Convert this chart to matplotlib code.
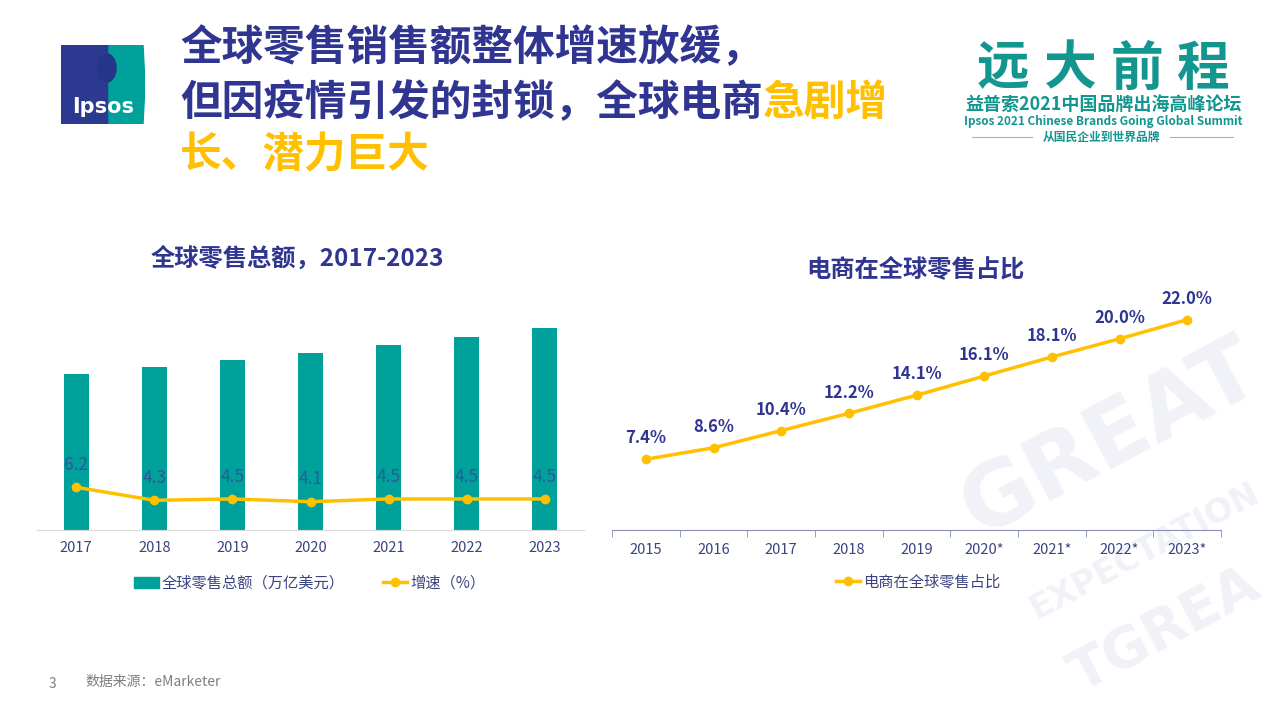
import matplotlib.pyplot as plt
from matplotlib.patches import Polygon, Ellipse
from matplotlib.lines import Line2D
from matplotlib.patches import Patch

plt.rcParams['font.family'] = ['Noto Sans CJK SC', 'DejaVu Sans']

# data
retail_years = ['2017', '2018', '2019', '2020', '2021', '2022', '2023']
retail_total = [22.6, 23.6, 24.6, 25.6, 26.8, 28.0, 29.3]   # 万亿美元
retail_growth = [6.2, 4.3, 4.5, 4.1, 4.5, 4.5, 4.5]

ecom_years = ['2015', '2016', '2017', '2018', '2019', '2020*', '2021*', '2022*', '2023*']
ecom_share = [7.4, 8.6, 10.4, 12.2, 14.1, 16.1, 18.1, 20.0, 22.0]

NAVY = '#2f3590'
TEXT = '#3b4380'
YELLOW = '#FFC000'
TEAL = '#00A19B'
GRAY = '#7f7f7f'

fig = plt.figure(figsize=(12.8, 7.2), dpi=100)

# faint watermark in the lower right corner
wm = '#f1f2f8'
fig.text(0.868, 0.39, 'GREAT', fontsize=64, fontweight='bold', color=wm,
         rotation=28, ha='center', va='center', family='DejaVu Sans', zorder=-5)
fig.text(0.895, 0.235, 'EXPECTATION', fontsize=24, fontweight='bold', color=wm,
         rotation=28, ha='center', va='center', family='DejaVu Sans', zorder=-5)
fig.text(0.91, 0.125, 'TGREA', fontsize=40, fontweight='bold', color=wm,
         rotation=28, ha='center', va='center', family='DejaVu Sans', zorder=-5)

# Ipsos logo
logo = fig.add_axes([61 / 1280, 1 - 124 / 720, 84 / 1280, 79 / 720])
logo.set_xlim(0, 84)
logo.set_ylim(0, 79)
logo.axis('off')
logo.add_patch(Polygon([[0, 0], [48, 0], [48, 79], [0, 79]], color='#2b3990'))
logo.add_patch(Polygon([[48, 0], [82, 0], [84, 40], [82, 79], [48, 79]], color='#00A19B'))
logo.add_patch(Ellipse((46, 56), 18, 28, color='#25358a'))
logo.text(42, 17, 'Ipsos', color='white', fontsize=15, fontweight='bold',
          ha='center', va='center', family='DejaVu Sans')

# main title
fig.text(180 / 1280, 1 - 48 / 720, '全球零售销售额整体增速放缓，', fontsize=30,
         fontweight='bold', color=NAVY, va='center')
t2 = fig.text(180 / 1280, 1 - 103 / 720, '但因疫情引发的封锁，全球电商', fontsize=30,
              fontweight='bold', color=NAVY, va='center')
fig.canvas.draw()
x_end = t2.get_window_extent().x1 / 1280
fig.text(x_end, 1 - 103 / 720, '急剧增', fontsize=30,
         fontweight='bold', color=YELLOW, va='center')
fig.text(180 / 1280, 1 - 155 / 720, '长、潜力巨大', fontsize=30,
         fontweight='bold', color=YELLOW, va='center')

# summit logo
for xc, ch in zip([1003, 1070, 1137, 1203], '远大前程'):
    fig.text(xc / 1280, 1 - 69 / 720, ch, fontsize=38, fontweight='bold',
             color='#13968f', ha='center', va='center')
fig.text(1103 / 1280, 1 - 104 / 720, '益普索2021中国品牌出海高峰论坛', fontsize=13,
         fontweight='bold', color='#13968f', ha='center', va='center')
fig.text(1103 / 1280, 1 - 121 / 720, 'Ipsos 2021 Chinese Brands Going Global Summit',
         fontsize=8.5, fontweight='bold', color='#13968f', ha='center', va='center')
fig.text(1101 / 1280, 1 - 137 / 720, '从国民企业到世界品牌', fontsize=8.5,
         fontweight='bold', color='#13968f', ha='center', va='center')
fig.add_artist(Line2D([972 / 1280, 1032 / 1280], [1 - 137 / 720] * 2, color='#7fc9c5', lw=0.8))
fig.add_artist(Line2D([1170 / 1280, 1233 / 1280], [1 - 137 / 720] * 2, color='#7fc9c5', lw=0.8))

# left chart
ax1 = fig.add_axes([37 / 1280, 190 / 720, 547 / 1280, 241.5 / 720])
x1 = range(len(retail_years))
ax1.bar(x1, retail_total, width=0.32, color=TEAL, zorder=2)
ax1.set_xlim(-0.5, len(retail_years) - 0.5)
ax1.set_ylim(0, 35)
ax1.set_yticks([])
ax1.set_xticks(list(x1))
ax1.set_xticklabels(retail_years, fontsize=10.5, color=TEXT)
ax1.tick_params(axis='x', length=0, pad=8)
for s in ['top', 'right', 'left']:
    ax1.spines[s].set_visible(False)
ax1.spines['bottom'].set_color('#d9d9d9')
ax1.patch.set_alpha(0)

ax1b = ax1.twinx()
ax1b.plot(x1, retail_growth, color=YELLOW, lw=2.5, marker='o', ms=6, zorder=3)
ax1b.set_ylim(0, 35)
ax1b.axis('off')
for xi, v in zip(x1, retail_growth):
    ax1b.annotate(f'{v}', (xi, v), xytext=(0, 16), textcoords='offset points',
                  ha='center', va='center', fontsize=12.5, color='#3a4a9a', alpha=0.85)

fig.text(297 / 1280, 1 - 259 / 720, '全球零售总额，2017-2023', fontsize=17.5,
         fontweight='bold', color=NAVY, ha='center', va='center')

h1 = [Patch(color=TEAL), Line2D([], [], color=YELLOW, lw=2.5, marker='o', ms=6)]
fig.legend(h1, ['全球零售总额（万亿美元）', '增速（%）'], loc='center',
           bbox_to_anchor=(310 / 1280, 1 - 583 / 720), ncol=2, frameon=False,
           fontsize=11, labelcolor=TEXT, handlelength=1.6, handletextpad=0.2,
           columnspacing=2.5)

# right chart
ax2 = fig.add_axes([612 / 1280, 190 / 720, 609 / 1280, 239 / 720])
x2 = range(len(ecom_years))
ax2.plot(x2, ecom_share, color=YELLOW, lw=2.5, marker='o', ms=6, zorder=3)
ax2.set_xlim(-0.5, len(ecom_years) - 0.5)
ax2.set_ylim(0, 25)
ax2.set_yticks([])
ax2.set_xticks(list(x2))
ax2.set_xticklabels(ecom_years, fontsize=10.5, color=TEXT)
ax2.set_xticks([i - 0.5 for i in range(len(ecom_years) + 1)], minor=True)
ax2.tick_params(axis='x', which='major', length=0, pad=9)
ax2.tick_params(axis='x', which='minor', length=5, color='#8a8fb8', direction='out')
for s in ['top', 'right', 'left']:
    ax2.spines[s].set_visible(False)
ax2.spines['bottom'].set_color('#8a8fb8')
ax2.patch.set_alpha(0)
for xi, v in zip(x2, ecom_share):
    ax2.annotate(f'{v:.1f}%', (xi, v), xytext=(0, 15), textcoords='offset points',
                 ha='center', va='center', fontsize=12, fontweight='bold', color=NAVY)

fig.text(915 / 1280, 1 - 269 / 720, '电商在全球零售占比', fontsize=17.5,
         fontweight='bold', color=NAVY, ha='center', va='center')

h2 = [Line2D([], [], color=YELLOW, lw=2.5, marker='o', ms=6)]
fig.legend(h2, ['电商在全球零售占比'], loc='center',
           bbox_to_anchor=(918 / 1280, 1 - 582 / 720), frameon=False,
           fontsize=11, labelcolor=TEXT, handlelength=1.6, handletextpad=0.2)

# footer
fig.text(52 / 1280, 1 - 684 / 720, '3', fontsize=10, color=GRAY, ha='center', va='center')
fig.text(85 / 1280, 1 - 682 / 720, '数据来源：eMarketer', fontsize=10, color=GRAY, va='center')

fig.savefig('out.png', dpi=100)
